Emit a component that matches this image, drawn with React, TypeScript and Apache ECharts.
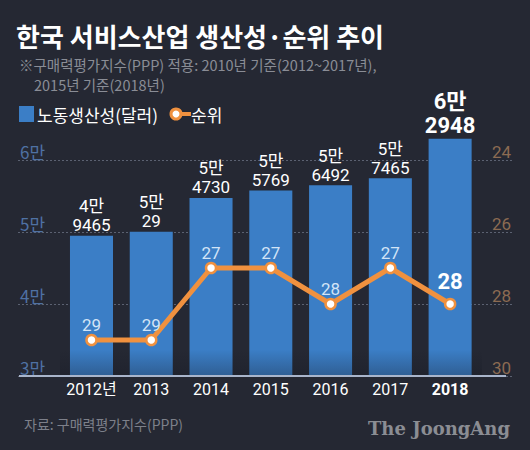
import React, { useEffect, useRef } from "react";
import * as echarts from "echarts";

const years = ["2012년", "2013", "2014", "2015", "2016", "2017", "2018"];
const productivity = [49465, 50029, 54730, 55769, 56492, 57465, 62948];
const ranks = [29, 29, 27, 27, 28, 27, 28];
const leftTicks = { min: 30000, max: 60000, interval: 10000 };
const rightTicks = { min: 24, max: 30, interval: 2 };

const KR = "'Noto Sans CJK KR', 'Noto Sans', sans-serif";
const NUM = "Roboto, 'Noto Sans CJK KR', sans-serif";
const BG = "#252833";
const BLUE = "#3b7ec6";
const ORANGE = "#f0913f";

const fmtMan = (v: number) => `${Math.floor(v / 10000)}만\n${v % 10000}`;

export default function App() {
  const ref = useRef<HTMLDivElement>(null);
  useEffect(() => {
    if (!ref.current) return;
    const chart = echarts.init(ref.current, undefined, { renderer: "svg" });
    const last = years.length - 1;
    const option: any = {
      animation: false,
      backgroundColor: BG,
      grid: [
        { left: 18, right: 18, top: 160, bottom: 74 },
        // same vertical scale as grid 0 (72px per 10000), extended upward by half a step
        { left: 61.6, right: 50, top: 124, bottom: 74 },
      ],
      xAxis: [
        {
          gridIndex: 0,
          type: "category",
          data: [""],
          axisLine: { show: false },
          axisTick: { show: false },
          axisLabel: { show: false },
          splitLine: { show: false },
        },
        {
          gridIndex: 1,
          type: "category",
          data: years,
          axisLine: { show: false },
          axisTick: { show: false },
          axisLabel: {
            interval: 0,
            color: "#ffffff",
            fontSize: 16,
            fontFamily: NUM,
            margin: 5,
            formatter: (v: string) => (v === years[last] ? `{b|${v}}` : v),
            rich: { b: { fontWeight: "bold", fontSize: 16, color: "#ffffff", fontFamily: NUM } },
          },
        },
      ],
      yAxis: [
        {
          gridIndex: 0,
          type: "value",
          ...leftTicks,
          position: "left",
          axisLine: { show: false },
          axisTick: { show: false },
          splitLine: { show: true, lineStyle: { color: "#5b6171", type: [2, 2], width: 1 } },
          axisLabel: {
            inside: true,
            margin: 2,
            verticalAlign: "bottom",
            color: "#4f71a3",
            fontSize: 17,
            fontFamily: KR,
            formatter: (v: number) => `${v / 10000}만`,
          },
        },
        {
          gridIndex: 0,
          type: "value",
          ...rightTicks,
          inverse: true,
          position: "right",
          axisLine: { show: false },
          axisTick: { show: false },
          splitLine: { show: false },
          axisLabel: {
            inside: true,
            margin: 1,
            verticalAlign: "bottom",
            color: "#8c6b52",
            fontSize: 17,
            fontFamily: NUM,
          },
        },
        {
          gridIndex: 1,
          type: "value",
          min: 30000,
          max: 65000,
          show: false,
        },
        {
          gridIndex: 1,
          type: "value",
          min: 23,
          max: 30,
          inverse: true,
          show: false,
        },
      ],
      series: [
        {
          type: "bar",
          name: "노동생산성(달러)",
          xAxisIndex: 1,
          yAxisIndex: 2,
          data: productivity.map((v, i) =>
            i === last
              ? {
                  value: v,
                  label: { fontSize: 22, fontWeight: "bold", lineHeight: 24 },
                }
              : v
          ),
          barWidth: "72%",
          clip: true,
          itemStyle: { color: BLUE },
          label: {
            show: true,
            position: "top",
            distance: 1,
            color: "#ffffff",
            fontSize: 17,
            lineHeight: 19,
            fontFamily: NUM,
            formatter: (p: any) => fmtMan(p.value),
          },
        },
        {
          type: "line",
          name: "순위",
          xAxisIndex: 1,
          yAxisIndex: 3,
          data: ranks.map((v, i) =>
            i === last
              ? {
                  value: v,
                  label: { fontSize: 22, fontWeight: "bold", color: "#ffffff", distance: 5 },
                }
              : v
          ),
          z: 4,
          symbol: "circle",
          symbolSize: 10,
          lineStyle: { color: ORANGE, width: 5 },
          itemStyle: { color: "#ffffff", borderColor: ORANGE, borderWidth: 2.5 },
          label: {
            show: true,
            position: "top",
            distance: 0,
            color: "#d2e4f7",
            fontSize: 17,
            fontFamily: NUM,
          },
        },
      ],
      graphic: [
        {
          type: "rect",
          z: 3,
          silent: true,
          shape: { x: 60, y: 350, width: 422, height: 25 },
          style: {
            fill: new echarts.graphic.LinearGradient(0, 0, 0, 1, [
              { offset: 0, color: "rgba(20,24,35,0)" },
              { offset: 1, color: "rgba(20,24,35,0.3)" },
            ]),
          },
        },
        {
          type: "line",
          z: 20,
          silent: true,
          shape: { x1: 19, y1: 376, x2: 506, y2: 376 },
          style: { stroke: "#a9b5cb", lineWidth: 2 },
        },
        {
          type: "text",
          x: 16,
          y: 35,
          style: {
            text: "한국 서비스산업 생산성·순위 추이",
            fill: "#ffffff",
            fontSize: 26,
            lineHeight: 26,
            fontWeight: "bold",
            fontFamily: KR,
            verticalAlign: "middle",
          },
        },
        {
          type: "text",
          x: 19,
          y: 64,
          style: {
            text: "※구매력평가지수(PPP) 적용: 2010년 기준(2012~2017년),",
            fill: "#8a8d96",
            fontSize: 14.5,
            lineHeight: 15,
            fontFamily: KR,
            verticalAlign: "middle",
          },
        },
        {
          type: "text",
          x: 34,
          y: 84,
          style: {
            text: "2015년 기준(2018년)",
            fill: "#8a8d96",
            fontSize: 14.5,
            lineHeight: 15,
            fontFamily: KR,
            verticalAlign: "middle",
          },
        },
        {
          type: "rect",
          shape: { x: 19, y: 106, width: 15, height: 16 },
          style: { fill: BLUE },
        },
        {
          type: "text",
          x: 37,
          y: 114,
          style: {
            text: "노동생산성(달러)",
            fill: "#ffffff",
            fontSize: 17,
            fontFamily: KR,
            verticalAlign: "middle",
          },
        },
        {
          type: "line",
          shape: { x1: 176, y1: 114, x2: 191, y2: 114 },
          style: { stroke: ORANGE, lineWidth: 4 },
        },
        {
          type: "circle",
          shape: { cx: 176, cy: 114, r: 5 },
          style: { fill: "#ffffff", stroke: ORANGE, lineWidth: 3 },
        },
        {
          type: "text",
          x: 191,
          y: 114,
          style: {
            text: "순위",
            fill: "#ffffff",
            fontSize: 17,
            fontFamily: KR,
            verticalAlign: "middle",
          },
        },
        {
          type: "text",
          x: 24,
          y: 424,
          style: {
            text: "자료: 구매력평가지수(PPP)",
            fill: "#7d808a",
            fontSize: 14,
            fontFamily: KR,
            verticalAlign: "middle",
          },
        },
        {
          type: "text",
          x: 510,
          y: 428,
          style: {
            text: "The JoongAng",
            fill: "#8b8d93",
            fontSize: 18,
            fontWeight: "bold",
            fontFamily: "'DejaVu Serif', 'Liberation Serif', serif",
            align: "right",
            verticalAlign: "middle",
          },
        },
      ],
    };
    chart.setOption(option);
    return () => chart.dispose();
  }, []);
  return (
    <div
      ref={ref}
      style={{ position: "fixed", left: 0, top: 0, width: 530, height: 450 }}
    />
  );
}
